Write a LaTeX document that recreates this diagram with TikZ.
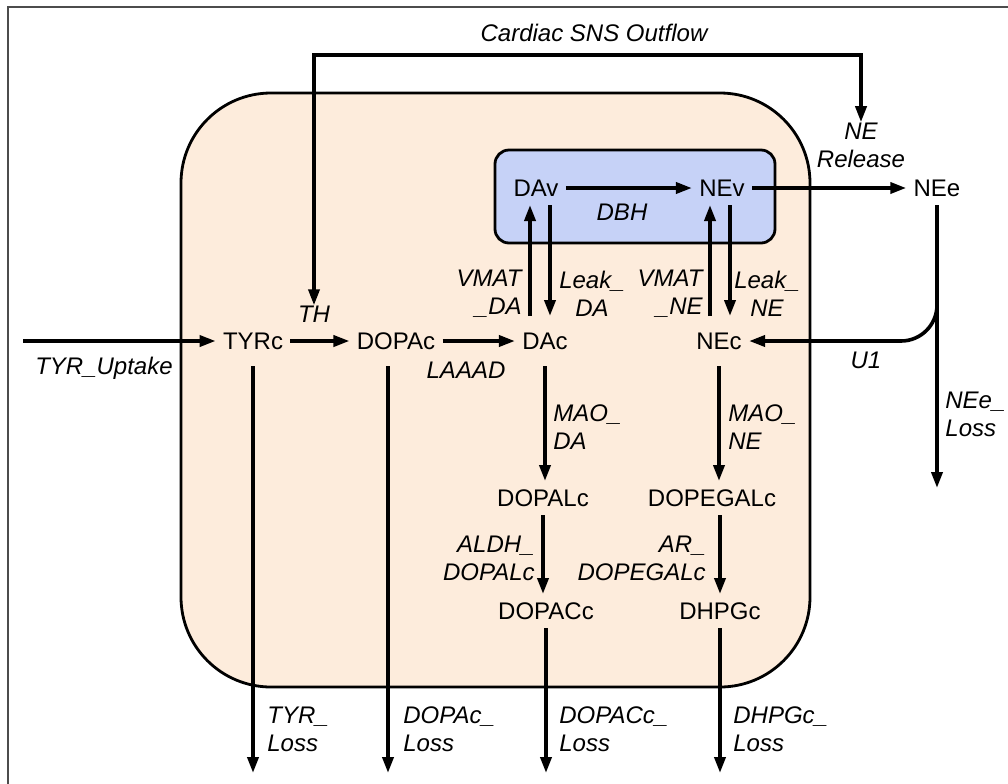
\documentclass[tikz,border=0pt]{standalone}
\usepackage{fontspec}
\setmainfont{Liberation Sans}
\usepackage{tikz}
\usetikzlibrary{arrows.meta}

\definecolor{cellfill}{RGB}{253,236,220}
\definecolor{vesfill}{RGB}{198,210,247}

\begin{document}
\begin{tikzpicture}[x=0.5pt, y=-0.5pt,
        sp/.style={font=\fontsize{12}{14}\selectfont, text height=8.6pt, text depth=0pt, inner xsep=3.5pt, inner ysep=4pt},
        cyt/.style={sp, inner ysep=8pt},
        rate/.style={font=\fontsize{12}{14}\selectfont\itshape, inner sep=0pt},
        flow/.style={line width=1.8pt, -{Triangle[length=8pt,width=5.5pt]}},
        flowtwo/.style={line width=1.8pt, {Triangle[length=8pt,width=5.5pt]}-{Triangle[length=8pt,width=5.5pt]}}]
                \useasboundingbox (0,0) rectangle (1008,783);
                \draw[gray!60!black, line width=1pt] (8,800) -- (8,7) -- (1020,7);
                \draw[line width=1.4pt, fill=cellfill, rounded corners=45pt] (181,93) rectangle (810,687);
                \draw[line width=1.4pt, fill=vesfill, rounded corners=7pt] (495,150) rectangle (775,243);

                \node[cyt] (TYRc) at (253,341) {TYRc};
                \node[cyt] (DOPAc) at (396,341) {DOPAc};
                \node[cyt] (DAc) at (545,341) {DAc};
                \node[cyt] (NEc) at (719,341) {NEc};
                \node[sp] (DAv) at (536,188) {DAv};
                \node[sp] (NEv) at (722,188) {NEv};
                \node[sp] (NEe) at (937,188) {NEe};
                \node[sp] (DOPALc) at (543,498) {DOPALc};
                \node[sp] (DOPEGALc) at (712,498) {DOPEGALc};
                \node[sp] (DOPACc) at (546,611) {DOPACc};
                \node[sp] (DHPGc) at (720,611) {DHPGc};
                \coordinate (uptake) at (23,341);
                \coordinate (bot) at (0,773);
                \coordinate (neloss) at (0,488);
                \coordinate (sns) at (594,55);

                \node[rate] (outflow) at (594,33) {Cardiac SNS Outflow};
                \node[rate, align=center] (nerel) at (861,145) {NE\\Release};
                \node[rate] (th) at (314,314) {TH};
                \node[rate] (laaad) at (466,370) {LAAAD};
                \node[rate] (dbh) at (622,212) {DBH};
                \node[rate] (tyrup) at (104,368) {TYR\_Uptake};
                \node[rate] (u1) at (866,360) {U1};
                \node[rate, align=right, anchor=east] (vmatda) at (522,294) {VMAT\\\_DA};
                \node[rate, align=center] (leakda) at (592,294) {Leak\_\\DA};
                \node[rate, align=right, anchor=east] (vmatne) at (703,294) {VMAT\\\_NE};
                \node[rate, align=center] (leakne) at (767,294) {Leak\_\\NE};
                \node[rate, align=left, anchor=west] (maoda) at (553,427) {MAO\_\\DA};
                \node[rate, align=left, anchor=west] (maone) at (728,427) {MAO\_\\NE};
                \node[rate, align=right, anchor=east] (aldh) at (535,558) {ALDH\_\\DOPALc};
                \node[rate, align=right, anchor=east] (ar) at (706,558) {AR\_\\DOPEGALc};
                \node[rate, align=left, anchor=west] (neeloss) at (945,414) {NEe\_\\Loss};
                \node[rate, align=left, anchor=west] (tyrloss) at (267,729) {TYR\_\\Loss};
                \node[rate, align=left, anchor=west] (dopacloss) at (403,729) {DOPAc\_\\Loss};
                \node[rate, align=left, anchor=west] (dopaccloss) at (559,729) {DOPACc\_\\Loss};
                \node[rate, align=left, anchor=west] (dhpgloss) at (733,729) {DHPGc\_\\Loss};

                \draw[flowtwo] (th.north) |- (sns) -| (nerel.north);
                \draw[flow] (uptake) -- (TYRc.west);
                \draw[flow] (TYRc.east) -- (DOPAc.west);
                \draw[flow] (DOPAc.east) -- (DAc.west);
                \draw[flow] (DAv.east) -- (NEv.west);
                \draw[flow] (NEv.east) -- (NEe.west);
                \draw[flow] ([xshift=-7.5pt]DAc.north) -- ([xshift=-7.5pt]DAc.north |- DAv.south);
                \draw[flow] ([xshift=2.5pt]DAc.north |- DAv.south) -- ([xshift=2.5pt]DAc.north);
                \draw[flow] ([xshift=-4.5pt]NEc.north) -- ([xshift=-4.5pt]NEc.north |- NEv.south);
                \draw[flow] ([xshift=5.5pt]NEc.north |- NEv.south) -- ([xshift=5.5pt]NEc.north);
                \draw[flow] (NEe.south) -- (NEe.south |- neloss);
                \draw[flow, rounded corners=18pt] (NEe.south |- 0,300) -- (NEe.south |- NEc) -- (NEc.east);
                \draw[flow] (DAc.south) -- (DAc.south |- DOPALc.north);
                \draw[flow] (DOPALc.south) -- (DOPALc.south |- DOPACc.north);
                \draw[flow] (NEc.south) -- (NEc.south |- DOPEGALc.north);
                \draw[flow] (DHPGc.north |- DOPEGALc.south) -- (DHPGc.north);
                \draw[flow] (TYRc.south) -- (TYRc.south |- bot);
                \draw[flow] ([xshift=-4pt]DOPAc.south) -- ([xshift=-4pt]DOPAc.south |- bot);
                \draw[flow] (DOPACc.south) -- (DOPACc.south |- bot);
                \draw[flow] (DHPGc.south) -- (DHPGc.south |- bot);
            \end{tikzpicture}
\end{document}
